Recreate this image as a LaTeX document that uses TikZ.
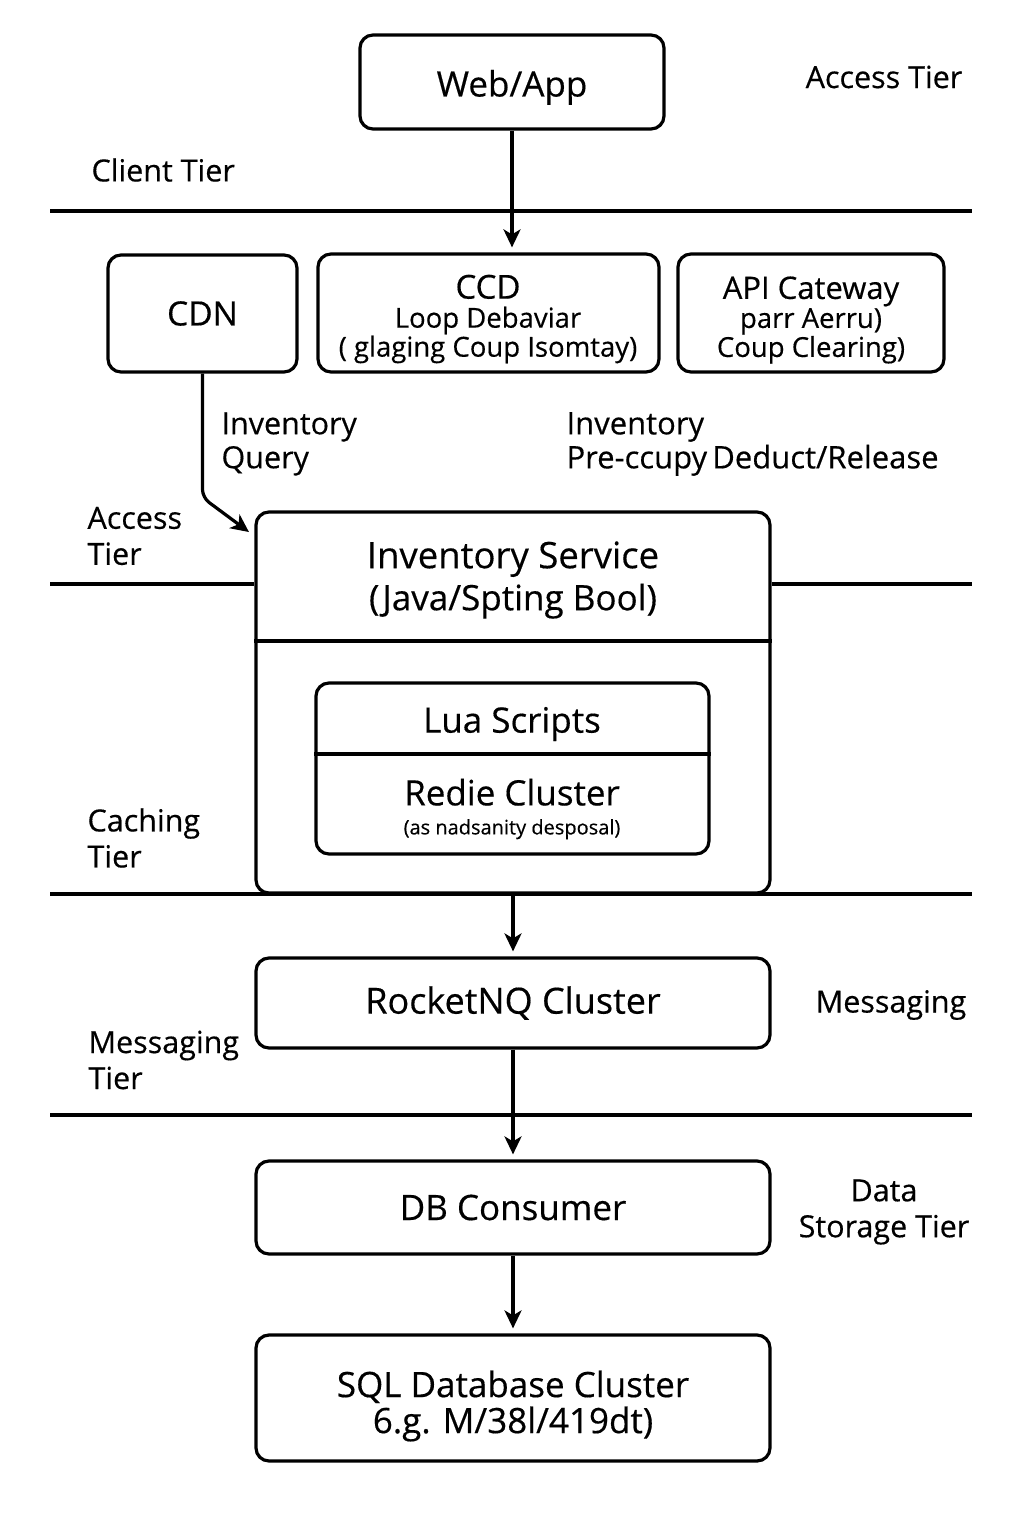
\documentclass[tikz,border=0pt]{standalone}
\usepackage{fontspec}
\setmainfont{Open Sans}[UprightFeatures={FakeBold=0.4}]
\usetikzlibrary{positioning,arrows.meta}

\begin{document}
\begin{tikzpicture}[x=1pt,y=-1pt,
  >={Stealth[length=18pt,width=17pt,inset=5pt]},
  box/.style={draw, line width=3.2pt, rounded corners=13pt, align=center, inner sep=0pt},
  title/.style={font=\fontsize{35}{42}\selectfont, align=center},
  sub/.style={font=\fontsize{27.5}{29}\selectfont, align=center},
  tier/.style={font=\fontsize{30.5}{36}\selectfont, align=left},
  flow/.style={->, line width=3.2pt, shorten >=5pt},
  rule/.style={line width=3.4pt}]

\useasboundingbox (0,0) rectangle (1024,1536);

% client tier
\node[box, title, minimum width=304pt, minimum height=94pt, text height=29pt, text depth=0pt] (web) at (512,82) {Web/App};
\node[tier] (accesslbl) at (884,77) {Access Tier};
\node[tier, anchor=west] (clientlbl) at (88,170) {Client Tier};
\draw[rule] (50,211) -- (972,211);

% access tier
\node[box, minimum width=189pt, minimum height=117pt, font=\fontsize{33.5}{35}\selectfont] (cdn) at (202.5,313.5) {CDN};
\node[box, minimum width=341pt, minimum height=118pt] (ccd) at (488.5,313) {};
\node[sub] (ccdtext) at (488,319)
  {{\fontsize{33}{29}\selectfont CCD}\\Loop Debaviar\\( glaging Coup Isomtay)};
\node[box, minimum width=266pt, minimum height=118pt] (gw) at (811,313) {};
\node[sub] (gwtext) at (811,320)
  {{\fontsize{31}{29}\selectfont API Cateway}\\parr Aerru)\\Coup Clearing)};

\coordinate (qend) at (253,535);
\draw[flow] (web.south) -- (web.south |- ccd.north);
\draw[flow, rounded corners=8pt] (cdn.south) -- ++(0,124) -- (qend);
\node[tier, anchor=west, font=\fontsize{30.5}{34}\selectfont] (querylbl) at (218,444) {Inventory\\Query};
\node[tier, anchor=west, font=\fontsize{31}{34}\selectfont] (deductlbl) at (563,444) {Inventory\\Pre-ccupy\,Deduct/Release};
\node[tier, anchor=west] (accesstier) at (84,536) {Access\\Tier};

% caching tier
\node[box, minimum width=514pt, minimum height=381pt] (inv) at (513,702.5) {};
\node[title] (invtitle) at (513,580) {{\fontsize{36.5}{42}\selectfont Inventory Service}\\(Java/Spting Bool)};
\coordinate (invsplit) at (513,641);
\draw[rule] (inv.west |- invsplit) -- (inv.east |- invsplit);
\draw[rule] (50,584) -- (inv.west |- 0,584);
\draw[rule] (inv.east |- 0,584) -- (972,584);

\node[box, minimum width=393pt, minimum height=171pt] (redis) at (512.5,768.5) {};
\node[font=\fontsize{35}{36}\selectfont] (lua) at (512,724) {Lua Scripts};
\coordinate (redissplit) at (512,754);
\draw[rule] (redis.west |- redissplit) -- (redis.east |- redissplit);
\node[align=center, font=\fontsize{35}{34}\selectfont] (redistitle) at (512,809)
  {Redie Cluster\\[-5pt]{\fontsize{20}{34}\selectfont (as nadsanity desposal)}};
\node[tier, anchor=west] (cachingtier) at (84,838) {Caching\\Tier};
\draw[rule] (50,894) -- (972,894);

% messaging tier
\node[box, title, minimum width=514pt, minimum height=90pt, font=\fontsize{36}{42}\selectfont] (mq) at (513,1003) {RocketNQ Cluster};
\draw[flow] (inv.south) -- (mq.north);
\node[tier] (msglbl) at (891,1005) {Messaging};
\node[tier, anchor=west] (msgtier) at (85,1060) {Messaging\\Tier};
\draw[rule] (50,1115) -- (972,1115);

% data storage tier
\node[box, title, minimum width=514pt, minimum height=93pt] (dbc) at (513,1207.5) {DB Consumer};
\draw[flow] (mq.south) -- (dbc.north);
\node[tier, align=center] (datatier) at (884,1212) {Data\\Storage Tier};
\node[box, minimum width=514pt, minimum height=126pt] (sql) at (513,1398) {};
\node[title, font=\fontsize{35}{36}\selectfont] (sqltext) at (513,1406)
  {SQL Database Cluster\\6.g. M/38l/419dt)};
\draw[flow] (dbc.south) -- (sql.north);
\end{tikzpicture}
\end{document}
